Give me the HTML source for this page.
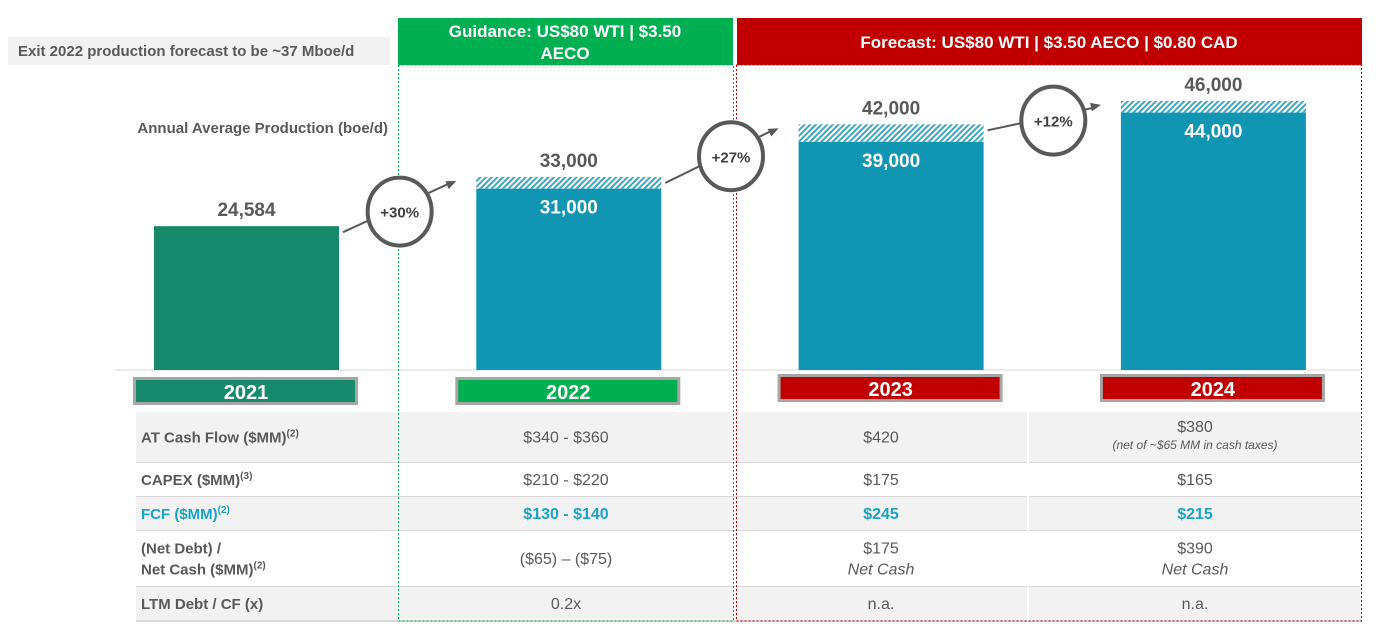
<!DOCTYPE html>
<html><head><meta charset="utf-8"><style>
body{margin:0;background:#fff;}
svg{display:block;font-family:"Liberation Sans Narrow","Liberation Sans",sans-serif;}
</style></head><body>
<svg id="c" width="1379" height="636" viewBox="0 0 1379 636">
<defs>
<pattern id="hatch" width="4" height="4" patternUnits="userSpaceOnUse" patternTransform="rotate(45)">
<rect width="4" height="4" fill="#fff"/><rect width="2" height="4" fill="#3fa6c0"/>
</pattern>
</defs>
<rect x="8" y="37" width="382" height="28" fill="#f2f2f2"/>
<text x="18" y="56" font-size="15" font-weight="bold" fill="#595959">Exit 2022 production forecast to be ~37 Mboe/d</text>
<rect x="398" y="18" width="335" height="47" fill="#00b050"/>
<text x="565" y="37" font-size="17" font-weight="bold" fill="#fff" text-anchor="middle">Guidance: US$80 WTI | $3.50</text>
<text x="565" y="59" font-size="17" font-weight="bold" fill="#fff" text-anchor="middle">AECO</text>
<rect x="737" y="18" width="625" height="47" fill="#c00000"/>
<text x="1049" y="48" font-size="17" font-weight="bold" fill="#fff" text-anchor="middle">Forecast: US$80 WTI | $3.50 AECO | $0.80 CAD</text>
<text x="388" y="133" font-size="15" font-weight="bold" fill="#595959" text-anchor="end">Annual Average Production (boe/d)</text>
<line x1="115" y1="370" x2="1362" y2="370" stroke="#e6e6e6" stroke-width="1.5"/>
<g id="table"></g>
<g id="bars"></g>
<rect x="398.5" y="65" width="335" height="556" fill="none" stroke="#00b050" stroke-dasharray="2,2"/>
<rect x="736.5" y="65" width="625" height="556" fill="none" stroke="#c00000" stroke-dasharray="2,2"/>
<g id="growth"></g>
</svg>
<script>
const years=['2021','2022','2023','2024'];
const baseValues=[24584,31000,39000,44000];
const topValues=[24584,33000,42000,46000];
const baseLabels=['','31,000','39,000','44,000'];
const topLabels=['24,584','33,000','42,000','46,000'];
const growthLabels=['+30%','+27%','+12%'];
const rowLabels=['AT Cash Flow ($MM)','CAPEX ($MM)','FCF ($MM)','(Net Debt) /|Net Cash ($MM)','LTM Debt / CF (x)'];
const rowSup=['(2)','(3)','(2)','(2)',''];
const col2022=['$340 - $360','$210 - $220','$130 - $140','($65) – ($75)','0.2x'];
const col2023=['$420','$175','$245','$175|Net Cash','n.a.'];
const col2024=['$380|(net of ~$65 MM in cash taxes)','$165','$215','$390|Net Cash','n.a.'];

const NS='http://www.w3.org/2000/svg';
function mk(p,t,a,txt){const e=document.createElementNS(NS,t);for(const k in a)e.setAttribute(k,a[k]);if(txt!==undefined)e.textContent=txt;p.appendChild(e);return e;}
const baseY=370, scale=0.00585;
const y=v=>baseY-v*scale;
const barX=i=>154+i*322.3;
const barW=185;
const yearColors=['#178a6c','#00b050','#c00000','#c00000'];
const barColors=['#178a6c','#1096b2','#1096b2','#1096b2'];
const bars=document.getElementById('bars');
years.forEach((yr,i)=>{
  const x=barX(i);
  if(topValues[i]>baseValues[i]){
    const h=mk(bars,'rect',{x:x,y:y(topValues[i]),width:barW,height:y(baseValues[i])-y(topValues[i]),fill:'url(#hatch)'});
    
    
  }
  const r=mk(bars,'rect',{x:x,y:y(baseValues[i]),width:barW,height:baseY-y(baseValues[i]),fill:barColors[i]});
  
  
  const t=mk(bars,'text',{x:x+barW/2,y:y(topValues[i])-10,'font-size':19,'font-weight':'bold',fill:'#595959','text-anchor':'middle'},topLabels[i]);
  
  
  if(baseLabels[i]){
    const b=mk(bars,'text',{x:x+barW/2,y:y(baseValues[i])+25,'font-size':19,'font-weight':'bold',fill:'#fff','text-anchor':'middle'},baseLabels[i]);
    
    
  }
  const by=i>=2?374:377;
  const bx=x-21;
  const yb=mk(bars,'rect',{x:bx+1.5,y:by+1.5,width:222,height:25,fill:yearColors[i],stroke:'#a6a6a6','stroke-width':3});
  
  
  const yt=mk(bars,'text',{x:bx+113,y:by+22,'font-size':20,'font-weight':'bold',fill:'#fff','text-anchor':'middle'},yr);
  
  
});
const g=document.getElementById('growth');
growthLabels.forEach((lab,i)=>{
  const x1=barX(i)+barW+4, y1=y(topValues[i])+6;
  const x2=barX(i+1)-20, y2=y(topValues[i+1])+4;
  const f=i===0?0.5:0.58;
  const cx=x1+(x2-x1)*f, cy=y1+(y2-y1)*f+5;
  const l=mk(g,'line',{x1:x1,y1:y1,x2:x2-8,y2:y2+3,stroke:'#595959','stroke-width':2});
  
  
  const ang=Math.atan2(y2-y1,x2-x1);
  const ax=x2, ay=y2;
  const p=[[ax,ay],[ax-11*Math.cos(ang-0.4),ay-11*Math.sin(ang-0.4)],[ax-11*Math.cos(ang+0.4),ay-11*Math.sin(ang+0.4)]];
  const ah=mk(g,'polygon',{points:p.map(q=>q.join(',')).join(' '),fill:'#595959'});
  
  
  const c=mk(g,'ellipse',{cx:cx,cy:cy,rx:32,ry:34,fill:'#fff',stroke:'#595959','stroke-width':4});
  
  
  const t=mk(g,'text',{x:cx,y:cy+6,'font-size':15,'font-weight':'bold',fill:'#404040','text-anchor':'middle'},lab);
  
  
});
const tb=document.getElementById('table');
const rowY=[412,463,497,531,587,621];
const cols=[[398,734,col2022],[734,1028,col2023],[1028,1362,col2024]];
rowLabels.forEach((lab,r)=>{
  const y0=rowY[r], y1=rowY[r+1];
  const bg=mk(tb,'rect',{x:136,y:y0,width:1226,height:y1-y0,fill:(r%2===0)?'#f2f2f2':'#fff'});
  
  
  const ln=mk(tb,'line',{x1:136,y1:y1,x2:1362,y2:y1,stroke:'#d9d9d9','stroke-width':2});
  
  
  const fcf=r===2;
  const parts=lab.split('|');
  const mid=(y0+y1)/2;
  parts.forEach((pt,k)=>{
    const ty=mid+5+(parts.length>1?(k-0.5)*21:0);
    const t=mk(tb,'text',{x:141,y:ty,'font-size':15,'font-weight':'bold',fill:fcf?'#1aa3c8':'#595959'},pt);
    if(k===parts.length-1&&rowSup[r]){mk(t,'tspan',{'font-size':10,dy:-6},rowSup[r]);}
    
    
  });
  cols.forEach(([a,b,arr],ci)=>{
    const vp=arr[r].split('|');
    vp.forEach((v,k)=>{
      const ital=k>0;
      const small=ital&&v.length>12;
      const ty=mid+5+(vp.length>1?(k-0.5)*21:0)-(small?4:0);
      const t=mk(tb,'text',{x:(a+b)/2,y:ty,'font-size':small?12:16,'font-weight':fcf?'bold':'normal','font-style':ital?'italic':'normal',fill:fcf?'#1aa3c8':'#595959','text-anchor':'middle'},v);
      
      
    });
  });
});
const vd=mk(tb,'line',{x1:1028,y1:412,x2:1028,y2:621,stroke:'#fff','stroke-width':2});


</script>
</body></html>
